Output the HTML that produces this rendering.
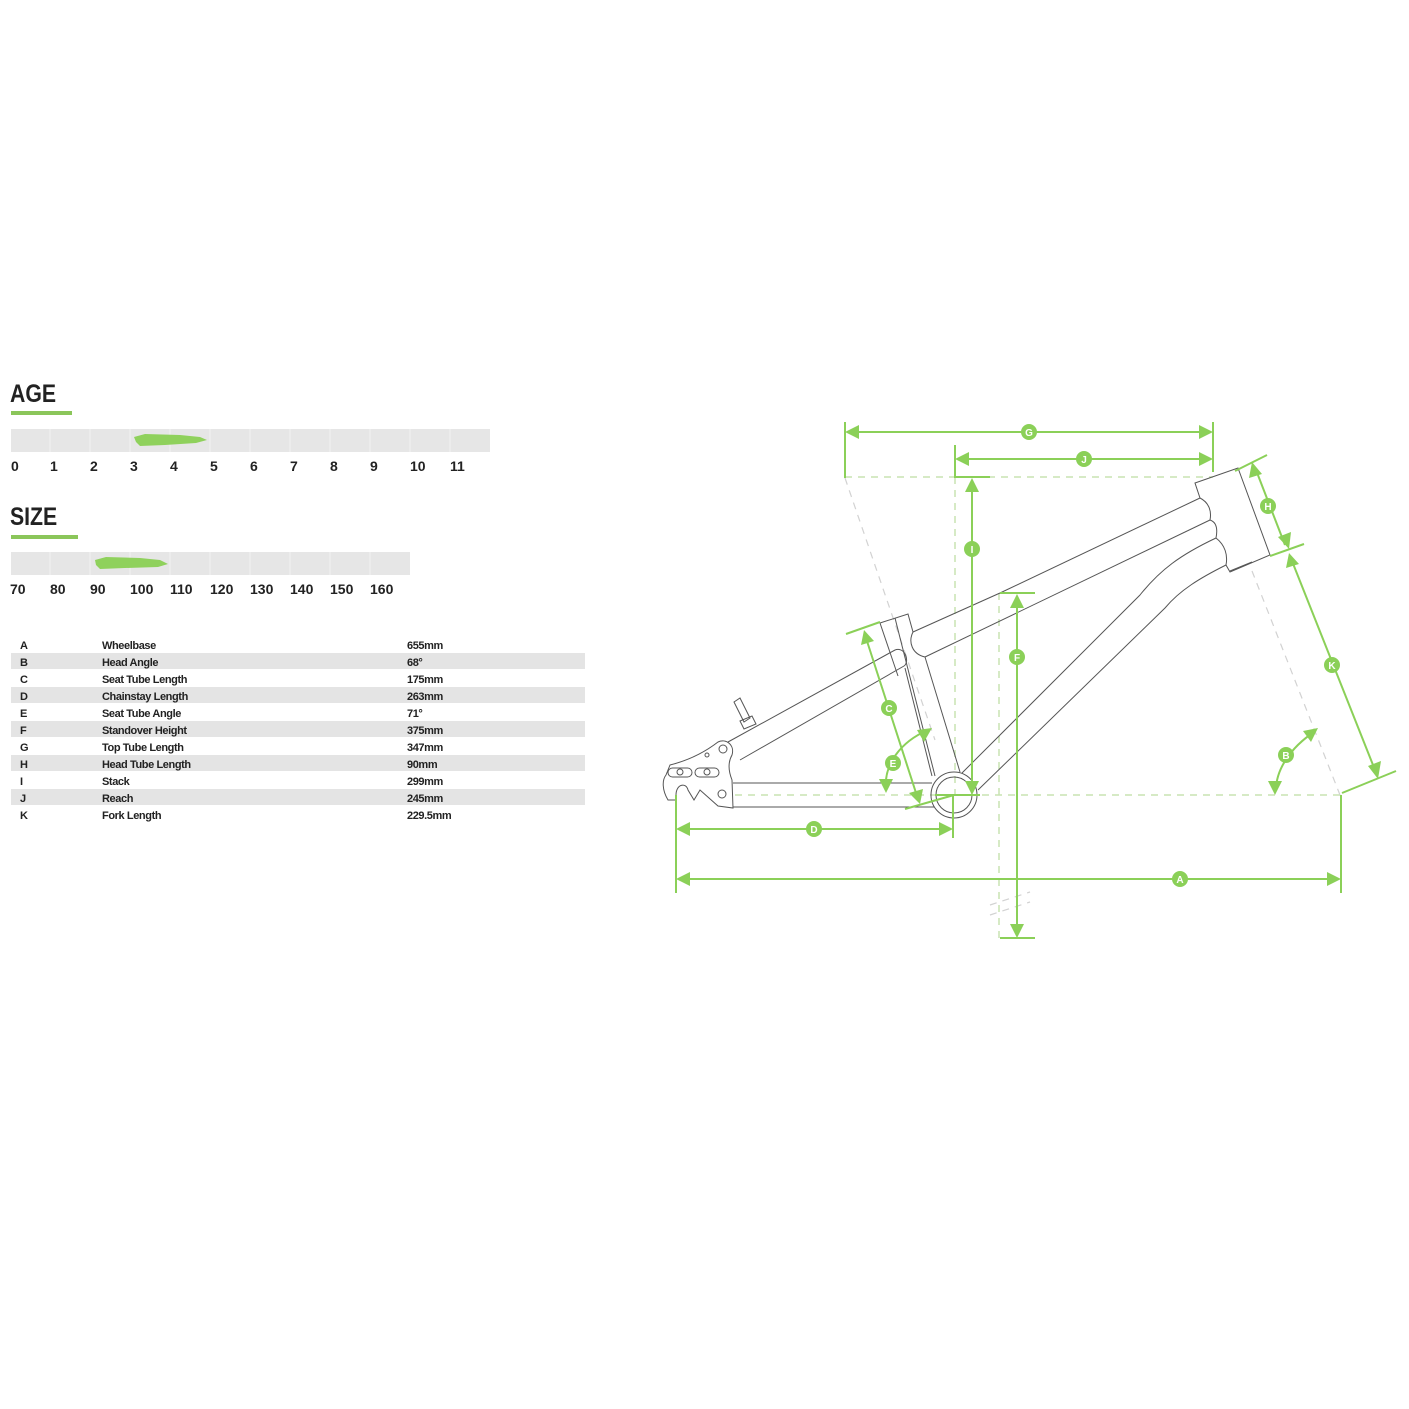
<!DOCTYPE html>
<html><head><meta charset="utf-8">
<style>
html,body{margin:0;padding:0;background:#fff;}
svg{display:block;}
.h{font-family:"Liberation Sans",sans-serif;font-weight:bold;fill:#222;}
.t{font-family:"Liberation Sans",sans-serif;font-weight:bold;font-size:11px;fill:#222;letter-spacing:-0.4px;}
.n{font-family:"Liberation Sans",sans-serif;font-weight:bold;font-size:14px;fill:#222;}
.fr{fill:none;stroke:#555;stroke-width:1;}
.g{stroke:#8bd058;stroke-width:2;fill:none;}
.gd{stroke:#c8e3b2;stroke-width:1.5;fill:none;stroke-dasharray:7 6;}
.gray{stroke:#d2d2d2;stroke-width:1.2;fill:none;stroke-dasharray:7 6;}
.ar{fill:#8bd058;}
.lc{fill:#8bd058;}
.lt{font-family:"Liberation Sans",sans-serif;font-weight:bold;font-size:10px;fill:#fff;text-anchor:middle;}
</style></head><body>
<svg width="1409" height="1409" viewBox="0 0 1409 1409" xmlns="http://www.w3.org/2000/svg">
<rect width="1409" height="1409" fill="#fff"/>
<!-- AGE -->
<text class="h" x="10" y="402" font-size="25" transform="translate(10,402) scale(0.85,1) translate(-10,-402)">AGE</text>
<rect x="11" y="411" width="61" height="4" fill="#8bc65a"/>
<rect x="11" y="429" width="479" height="23" fill="#e6e6e6"/>
<g stroke="#f2f2f2" stroke-width="1">
<line x1="50" y1="429" x2="50" y2="452"/><line x1="90" y1="429" x2="90" y2="452"/><line x1="130" y1="429" x2="130" y2="452"/><line x1="170" y1="429" x2="170" y2="452"/><line x1="210" y1="429" x2="210" y2="452"/><line x1="250" y1="429" x2="250" y2="452"/><line x1="290" y1="429" x2="290" y2="452"/><line x1="330" y1="429" x2="330" y2="452"/><line x1="370" y1="429" x2="370" y2="452"/><line x1="410" y1="429" x2="410" y2="452"/><line x1="450" y1="429" x2="450" y2="452"/>
</g>
<path d="M134,437 L145,434 L180,435 L200,437 L207,440 L196,443 L165,445 L140,446 L136,442 Z" fill="#8fd15c"/>
<g class="n">
<text x="11" y="471">0</text><text x="50" y="471">1</text><text x="90" y="471">2</text><text x="130" y="471">3</text><text x="170" y="471">4</text><text x="210" y="471">5</text><text x="250" y="471">6</text><text x="290" y="471">7</text><text x="330" y="471">8</text><text x="370" y="471">9</text><text x="410" y="471">10</text><text x="450" y="471">11</text>
</g>
<!-- SIZE -->
<text class="h" x="10" y="525" font-size="25" transform="translate(10,525) scale(0.85,1) translate(-10,-525)">SIZE</text>
<rect x="11" y="535" width="67" height="4" fill="#8bc65a"/>
<rect x="11" y="552" width="399" height="23" fill="#e6e6e6"/>
<g stroke="#f2f2f2" stroke-width="1">
<line x1="50" y1="552" x2="50" y2="575"/><line x1="90" y1="552" x2="90" y2="575"/><line x1="130" y1="552" x2="130" y2="575"/><line x1="170" y1="552" x2="170" y2="575"/><line x1="210" y1="552" x2="210" y2="575"/><line x1="250" y1="552" x2="250" y2="575"/><line x1="290" y1="552" x2="290" y2="575"/><line x1="330" y1="552" x2="330" y2="575"/><line x1="370" y1="552" x2="370" y2="575"/>
</g>
<path d="M95,560 L106,557 L140,558 L160,560 L168,564 L158,567 L125,568 L100,569 L96,565 Z" fill="#8fd15c"/>
<g class="n">
<text x="10" y="594">70</text><text x="50" y="594">80</text><text x="90" y="594">90</text><text x="130" y="594">100</text><text x="170" y="594">110</text><text x="210" y="594">120</text><text x="250" y="594">130</text><text x="290" y="594">140</text><text x="330" y="594">150</text><text x="370" y="594">160</text>
</g>
<!-- table -->
<g fill="#e4e4e4">
<rect x="11" y="653" width="574" height="16"/><rect x="11" y="687" width="574" height="16"/><rect x="11" y="721" width="574" height="16"/><rect x="11" y="755" width="574" height="16"/><rect x="11" y="789" width="574" height="16"/>
</g>
<g class="t">
<text x="20" y="649">A</text><text x="102" y="649">Wheelbase</text><text x="407" y="649">655mm</text>
<text x="20" y="666">B</text><text x="102" y="666">Head Angle</text><text x="407" y="666">68°</text>
<text x="20" y="683">C</text><text x="102" y="683">Seat Tube Length</text><text x="407" y="683">175mm</text>
<text x="20" y="700">D</text><text x="102" y="700">Chainstay Length</text><text x="407" y="700">263mm</text>
<text x="20" y="717">E</text><text x="102" y="717">Seat Tube Angle</text><text x="407" y="717">71°</text>
<text x="20" y="734">F</text><text x="102" y="734">Standover Height</text><text x="407" y="734">375mm</text>
<text x="20" y="751">G</text><text x="102" y="751">Top Tube Length</text><text x="407" y="751">347mm</text>
<text x="20" y="768">H</text><text x="102" y="768">Head Tube Length</text><text x="407" y="768">90mm</text>
<text x="20" y="785">I</text><text x="102" y="785">Stack</text><text x="407" y="785">299mm</text>
<text x="20" y="802">J</text><text x="102" y="802">Reach</text><text x="407" y="802">245mm</text>
<text x="20" y="819">K</text><text x="102" y="819">Fork Length</text><text x="407" y="819">229.5mm</text>
</g>

<!-- dashed guides -->
<line class="gd" x1="845" y1="477" x2="1213" y2="477"/>
<line class="gd" x1="735" y1="795" x2="1340" y2="795"/>
<line class="gd" x1="955" y1="477" x2="955" y2="795"/>
<line class="gd" x1="999" y1="593" x2="999" y2="938"/>
<line class="gray" x1="845" y1="478" x2="935" y2="740"/>
<line class="gray" x1="1252" y1="571" x2="1340" y2="795"/>
<line class="gray" x1="990" y1="905" x2="1030" y2="892"/>
<line class="gray" x1="990" y1="915" x2="1030" y2="902"/>

<!-- frame -->
<g class="fr">
<!-- head tube -->
<path d="M1195,483 L1238,468 L1270,555 L1230,572 L1226,565 C1228,555 1225,545 1216,538 C1218,528 1216,522 1210,520 C1212,510 1208,502 1200,498 Z"/>
<line x1="1230" y1="571" x2="1252" y2="562"/>
<!-- top tube -->
<line x1="1200" y1="498" x2="1000" y2="593"/>
<line x1="1000" y1="593" x2="913" y2="632"/>
<line x1="1210" y1="520" x2="925" y2="657"/>
<!-- down tube -->
<path d="M1216,538 C1180,555 1160,570 1140,595 L962,773"/>
<path d="M1226,565 C1200,578 1180,590 1165,608 L978,790"/>
<!-- seat tube -->
<path d="M880,623 L908,614 L913,632 C908,642 912,654 925,657 L960,772"/>
<line x1="895" y1="618" x2="935" y2="776"/>
<path d="M880,623 L898,676"/>
<path d="M905,668 L932,776"/>
<!-- BB -->
<circle cx="954" cy="795" r="23"/>
<circle cx="954" cy="795" r="18"/>
<!-- seat stays -->
<path d="M728,742 L895,650 C905,646 910,662 904,666 L740,760"/>
<!-- post -->
<path d="M734,702 L740,698 L750,718 L744,722 Z"/>
<path d="M740,721 L752,716 L756,724 L744,729 Z"/>
<!-- chainstays -->
<line x1="733" y1="783" x2="932" y2="783"/>
<line x1="733" y1="807" x2="934" y2="807"/>
<!-- dropout -->
<path d="M670,765 C690,760 705,752 718,742 C726,738 735,745 732,755 C728,762 728,770 732,780 L733,808 L718,806 L700,790 L694,800 L688,790 C686,782 676,784 676,795 L676,800 L668,800 C662,790 662,780 666,775 Z"/>
<circle cx="723" cy="749" r="4"/><circle cx="707" cy="755" r="2"/><circle cx="722" cy="794" r="4"/>
<rect x="668" y="768" width="24" height="9" rx="4.5"/><rect x="695" y="768" width="24" height="9" rx="4.5"/>
<circle cx="680" cy="772" r="3"/><circle cx="707" cy="772" r="3"/>
</g>

<!-- green dims -->
<g class="g">
<line x1="845" y1="422" x2="845" y2="478"/><line x1="1213" y1="422" x2="1213" y2="472"/>
<line x1="855" y1="432" x2="1203" y2="432"/>
<line x1="955" y1="445" x2="955" y2="478"/><line x1="965" y1="459" x2="1203" y2="459"/>
<line x1="955" y1="477" x2="990" y2="477"/>
<line x1="972" y1="490" x2="972" y2="782"/>
<line x1="1000" y1="593" x2="1035" y2="593"/>
<line x1="1017" y1="605" x2="1017" y2="926"/>
<line x1="1000" y1="938" x2="1035" y2="938"/>
<line x1="676" y1="795" x2="676" y2="893"/><line x1="1341" y1="795" x2="1341" y2="893"/>
<line x1="688" y1="879" x2="1329" y2="879"/>
<line x1="953" y1="795" x2="953" y2="838"/>
<line x1="688" y1="829" x2="941" y2="829"/>
<line x1="935" y1="795" x2="980" y2="795"/>
<!-- H -->
<line x1="1235" y1="471" x2="1267" y2="455"/>
<line x1="1270" y1="556" x2="1304" y2="544"/>
<line x1="1256" y1="470" x2="1285" y2="545"/>
<!-- K -->
<line x1="1290" y1="556" x2="1375" y2="770"/>
<line x1="1342" y1="793" x2="1396" y2="771"/>
<!-- C -->
<line x1="846" y1="634" x2="880" y2="622"/>
<line x1="905" y1="809" x2="954" y2="795"/>
<line x1="866" y1="638" x2="917" y2="796"/>
<!-- arcs -->
<path d="M886,788 C884,765 900,742 928,730"/>
<path d="M1276,790 C1276,770 1290,748 1314,732"/>
</g>
<g class="ar">
<polygon points="845,432 859,425 859,439"/><polygon points="1213,432 1199,425 1199,439"/>
<polygon points="955,459 969,452 969,466"/><polygon points="1213,459 1199,452 1199,466"/>
<polygon points="972,478 965,492 979,492"/><polygon points="972,795 965,781 979,781"/>
<polygon points="1017,594 1010,608 1024,608"/><polygon points="1017,938 1010,924 1024,924"/>
<polygon points="676,879 690,872 690,886"/><polygon points="1341,879 1327,872 1327,886"/>
<polygon points="676,829 690,822 690,836"/><polygon points="953,829 939,822 939,836"/>
<polygon points="1252,462 1249,478 1262,474"/><polygon points="1289,549 1278,537 1291,532"/>
<polygon points="1289,553 1286,568 1299,564"/><polygon points="1378,779 1368,766 1381,761"/>
<polygon points="864,630 861,645 874,641"/><polygon points="920,804 909,793 923,789"/>
<polygon points="932,728 917,730 924,742"/><polygon points="886,793 879,779 893,779"/>
<polygon points="1318,728 1303,731 1311,742"/><polygon points="1275,795 1268,781 1282,781"/>
</g>
<g>
<circle class="lc" cx="1029" cy="432" r="8"/><text class="lt" x="1029" y="436">G</text>
<circle class="lc" cx="1084" cy="459" r="8"/><text class="lt" x="1084" y="463">J</text>
<circle class="lc" cx="972" cy="549" r="8"/><text class="lt" x="972" y="553">I</text>
<circle class="lc" cx="1017" cy="657" r="8"/><text class="lt" x="1017" y="661">F</text>
<circle class="lc" cx="1268" cy="506" r="8"/><text class="lt" x="1268" y="510">H</text>
<circle class="lc" cx="1332" cy="665" r="8"/><text class="lt" x="1332" y="669">K</text>
<circle class="lc" cx="1286" cy="755" r="8"/><text class="lt" x="1286" y="759">B</text>
<circle class="lc" cx="889" cy="708" r="8"/><text class="lt" x="889" y="712">C</text>
<circle class="lc" cx="893" cy="763" r="8"/><text class="lt" x="893" y="767">E</text>
<circle class="lc" cx="814" cy="829" r="8"/><text class="lt" x="814" y="833">D</text>
<circle class="lc" cx="1180" cy="879" r="8"/><text class="lt" x="1180" y="883">A</text>
</g>
</svg>
</body></html>
